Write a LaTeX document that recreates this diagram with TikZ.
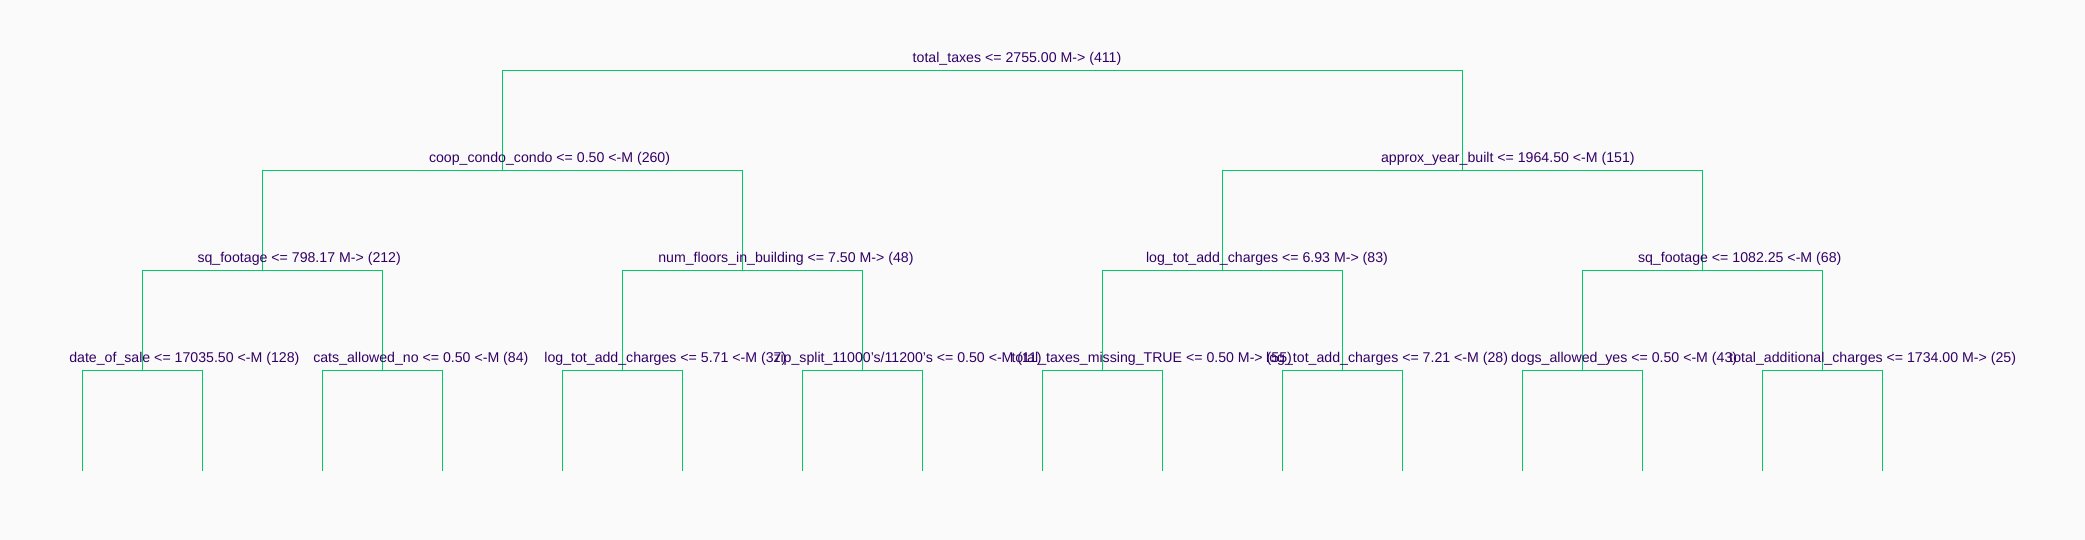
\documentclass[tikz,border=0pt]{standalone}
\usepackage{fontspec}
\setmainfont{Liberation Sans}
\definecolor{bgc}{HTML}{FAFAFA}
\definecolor{edgec}{HTML}{00CC66}
\definecolor{txtc}{HTML}{330066}
\tikzset{
  edge/.style={draw=edgec, line width=1pt},
  lbl/.style={anchor=base west, inner sep=0pt, outer sep=0pt, text=txtc, font=\fontsize{14.15pt}{16pt}\selectfont}
}
\begin{document}
\begin{tikzpicture}[x=1pt,y=-1pt]
\fill[bgc] (0,0) rectangle (2085,540);
\useasboundingbox (0,0) rectangle (2085,540);
% split points
\coordinate (n0) at (982.5,70.5);
\coordinate (n1) at (502.5,170.5);
\coordinate (n2) at (1462.5,170.5);
\coordinate (n3) at (262.5,270.5);
\coordinate (n4) at (742.5,270.5);
\coordinate (n5) at (1222.5,270.5);
\coordinate (n6) at (1702.5,270.5);
\foreach \i/\x in {7/142.5,8/382.5,9/622.5,10/862.5,11/1102.5,12/1342.5,13/1582.5,14/1822.5}{
  \coordinate (n\i) at (\x,370.5);
  \coordinate (n\i l) at (\x-60,470.5);
  \coordinate (n\i r) at (\x+60,470.5);
}
% connectors
\draw[edge] (n1) |- (n0) -| (n2);
\draw[edge] (n3) |- (n1) -| (n4);
\draw[edge] (n5) |- (n2) -| (n6);
\draw[edge] (n7) |- (n3) -| (n8);
\draw[edge] (n9) |- (n4) -| (n10);
\draw[edge] (n11) |- (n5) -| (n12);
\draw[edge] (n13) |- (n6) -| (n14);
\foreach \i in {7,...,14}{
  \draw[edge] (n\i l) |- (n\i) -| (n\i r);
}
% labels
\node[lbl] (t0) at (912.7,62.7) {total\_taxes <= 2755.00 M-> (411)};
\node[lbl] (t1) at (429,162.7) {coop\_condo\_condo <= 0.50 <-M (260)};
\node[lbl] (t2) at (1381,162.7) {approx\_year\_built <= 1964.50 <-M (151)};
\node[lbl] (t3) at (197.5,262.7) {sq\_footage <= 798.17 M-> (212)};
\node[lbl] (t4) at (658.3,262.7) {num\_floors\_in\_building <= 7.50 M-> (48)};
\node[lbl] (t5) at (1146,262.7) {log\_tot\_add\_charges <= 6.93 M-> (83)};
\node[lbl] (t6) at (1638,262.7) {sq\_footage <= 1082.25 <-M (68)};
\node[lbl] (t7) at (69.3,362.7) {date\_of\_sale <= 17035.50 <-M (128)};
\node[lbl] (t8) at (313.3,362.7) {cats\_allowed\_no <= 0.50 <-M (84)};
\node[lbl] (t9) at (544.4,362.7) {log\_tot\_add\_charges <= 5.71 <-M (37)};
\node[lbl] (t10) at (773.5,362.7) {zip\_split\_11000's/11200's <= 0.50 <-M (11)};
\node[lbl] (t11) at (1011.5,362.7) {total\_taxes\_missing\_TRUE <= 0.50 M-> (55)};
\node[lbl] (t12) at (1266.2,362.7) {log\_tot\_add\_charges <= 7.21 <-M (28)};
\node[lbl] (t13) at (1511,362.7) {dogs\_allowed\_yes <= 0.50 <-M (43)};
\node[lbl] (t14) at (1729.3,362.7) {total\_additional\_charges <= 1734.00 M-> (25)};
\end{tikzpicture}
\end{document}
